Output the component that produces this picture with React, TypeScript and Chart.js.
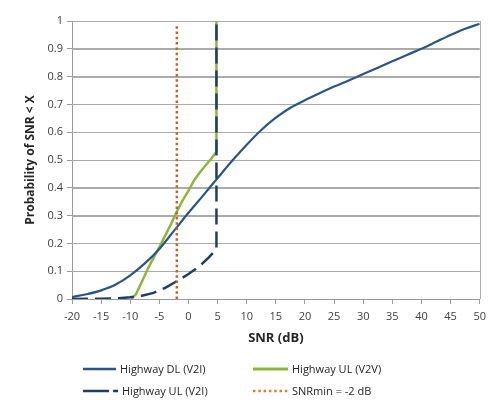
import React, { useEffect, useRef } from "react";
import { Chart, registerables } from "chart.js";

Chart.register(...registerables);

// Highway DL (V2I)
const dlSnr = [-20, -17.5, -15, -12.5, -10, -7.5, -5, -2.5, 0, 2.5, 5, 7.5, 10, 12.5, 15, 17.5, 20, 22.5, 25, 27.5, 30, 32.5, 35, 37.5, 40, 42.5, 45, 47.5, 50];
const dlProb = [0.007, 0.017, 0.031, 0.052, 0.085, 0.128, 0.18, 0.245, 0.31, 0.372, 0.435, 0.497, 0.555, 0.608, 0.652, 0.688, 0.715, 0.74, 0.764, 0.786, 0.809, 0.832, 0.855, 0.878, 0.9, 0.925, 0.95, 0.972, 0.99];

// Highway UL (V2V)
const v2vSnr = [-9.8, -9, -8, -7, -6, -5, -4, -3, -2, -1, 0, 1, 2, 3, 4, 4.8, 4.8];
const v2vProb = [0, 0.018, 0.062, 0.108, 0.148, 0.187, 0.228, 0.27, 0.315, 0.355, 0.39, 0.428, 0.457, 0.482, 0.507, 0.53, 1];

// Highway UL (V2I)
const v2iSnr = [-20, -15, -12, -10, -8, -6, -4, -2, 0, 2, 3.5, 4.8, 4.8];
const v2iProb = [0, 0.001, 0.003, 0.006, 0.012, 0.022, 0.04, 0.064, 0.09, 0.12, 0.15, 0.18, 1];

// SNRmin = -2 dB
const snrMinX = [-2, -2];
const snrMinY = [0, 0.99];

const seriesLabels = ["Highway DL (V2I)", "Highway UL (V2V)", "Highway UL (V2I)", "SNRmin = -2 dB"];
const xTitle = "SNR (dB)";
const yTitle = "Probability of SNR < X";

const COLORS = {
  dl: "#2c5585",
  v2v: "#8db53f",
  v2i: "#1f3d66",
  snr: "#c0652c",
};

const GRID_GRAY = "#ababab";
const AXIS_GRAY = "#9a9a9a";
const FONT = "'Open Sans', 'DejaVu Sans', sans-serif";

const pts = (xs: number[], ys: number[]) => xs.map((x, i) => ({ x, y: ys[i] }));

// Horizontal gridlines + right frame line, drawn from the y / x scales under the datasets
const gridPlugin = {
  id: "excelGrid",
  beforeDatasetsDraw(chart: any) {
    const { ctx, chartArea, scales } = chart;
    const ys = scales.y;
    const xs = scales.x;
    ctx.save();
    ctx.strokeStyle = GRID_GRAY;
    ctx.lineWidth = 1;
    ctx.setLineDash([]);
    ys.ticks.forEach((t: any) => {
      if (t.value === 0) return;
      const py = Math.round(ys.getPixelForValue(t.value)) + 0.5;
      ctx.beginPath();
      ctx.moveTo(chartArea.left, py);
      ctx.lineTo(chartArea.right, py);
      ctx.stroke();
    });
    const px = Math.round(xs.getPixelForValue(xs.max)) + 0.5;
    ctx.beginPath();
    ctx.moveTo(px, chartArea.top);
    ctx.lineTo(px, chartArea.bottom);
    ctx.stroke();
    ctx.restore();
  },
};

function LegendItem(props: { left: number; top: number; color: string; dash?: string; width: number; lineW: number; text: string }) {
  const { left, top, color, dash, width, lineW, text } = props;
  return (
    <div style={{ position: "absolute", left, top, display: "flex", alignItems: "center", height: 15, whiteSpace: "nowrap" }}>
      <svg width={width} height={6} style={{ display: "block" }}>
        <line x1={0} y1={3} x2={width} y2={3} stroke={color} strokeWidth={lineW} strokeDasharray={dash} />
      </svg>
      <span style={{ marginLeft: 4, fontFamily: FONT, fontSize: 11, color: "#262626", lineHeight: "15px" }}>{text}</span>
    </div>
  );
}

export default function App() {
  const ref = useRef<HTMLCanvasElement | null>(null);

  useEffect(() => {
    if (!ref.current) return;
    const chart = new Chart(ref.current, {
      type: "line",
      data: {
        datasets: [
          {
            label: seriesLabels[0],
            data: pts(dlSnr, dlProb),
            borderColor: COLORS.dl,
            borderWidth: 2.2,
            pointRadius: 0,
            fill: false,
            cubicInterpolationMode: "monotone",
            order: 2,
          },
          {
            label: seriesLabels[1],
            data: pts(v2vSnr, v2vProb),
            borderColor: COLORS.v2v,
            borderWidth: 2.5,
            pointRadius: 0,
            fill: false,
            tension: 0,
            order: 3,
          },
          {
            label: seriesLabels[2],
            data: pts(v2iSnr, v2iProb),
            borderColor: COLORS.v2i,
            borderWidth: 2.5,
            borderDash: [16, 7],
            pointRadius: 0,
            fill: false,
            tension: 0,
            order: 1,
          },
          {
            label: seriesLabels[3],
            data: pts(snrMinX, snrMinY),
            borderColor: COLORS.snr,
            borderWidth: 2.5,
            borderDash: [2.5, 2.8],
            pointRadius: 0,
            fill: false,
            tension: 0,
            order: 0,
          },
        ],
      },
      options: {
        responsive: false,
        animation: false,
        devicePixelRatio: 1,
        layout: { padding: { top: 13, right: 7, left: 0, bottom: 0 } },
        plugins: {
          legend: { display: false },
          tooltip: { enabled: false },
        },
        scales: {
          x: {
            type: "linear",
            min: -20,
            max: 50,
            afterFit: (s: any) => {
              s.height = 102;
            },
            ticks: {
              stepSize: 5,
              color: "#404040",
              font: { family: FONT, size: 11 },
              padding: 6,
              maxRotation: 0,
            },
            grid: {
              drawOnChartArea: false,
              tickColor: AXIS_GRAY,
              tickLength: 5,
              drawTicks: true,
            },
            border: { display: true, color: AXIS_GRAY },
            title: {
              display: true,
              text: xTitle,
              color: "#262626",
              font: { family: FONT, size: 13, weight: "bold" },
              padding: { top: 0, bottom: 55 },
            },
          },
          y: {
            type: "linear",
            min: 0,
            max: 1,
            afterFit: (s: any) => {
              s.width = 64;
            },
            ticks: {
              stepSize: 0.1,
              color: "#404040",
              font: { family: FONT, size: 11 },
              padding: 4,
              callback: (v: any) => String(Number(Number(v).toFixed(1))),
            },
            grid: {
              color: GRID_GRAY,
              tickColor: AXIS_GRAY,
              tickLength: 5,
              lineWidth: 1,
            },
            border: { display: true, color: AXIS_GRAY },
            title: {
              display: true,
              text: yTitle,
              color: "#262626",
              font: { family: FONT, size: 12, weight: "bold" },
              padding: { top: 15, bottom: 0 },
            },
          },
        },
      },
      plugins: [gridPlugin],
    } as any);
    return () => chart.destroy();
  }, []);

  return (
    <div style={{ position: "relative", width: 484, height: 393 }}>
      <div style={{ position: "absolute", left: -1, top: 0, width: 1, height: 393, background: "#a6a6a6" }} />
      <canvas ref={ref} width={484} height={393} style={{ display: "block", width: 484, height: 393 }} />
      <LegendItem left={75} top={353} color={COLORS.dl} width={33} lineW={2.5} text={seriesLabels[0]} />
      <LegendItem left={245} top={353} color={COLORS.v2v} width={35} lineW={3} text={seriesLabels[1]} />
      <LegendItem left={75} top={375} color={COLORS.v2i} width={35} lineW={2.5} dash="26 4 5" text={seriesLabels[2]} />
      <LegendItem left={245} top={375} color="#e07b39" width={35} lineW={2.5} dash="2.5 2.8" text={seriesLabels[3]} />
    </div>
  );
}
